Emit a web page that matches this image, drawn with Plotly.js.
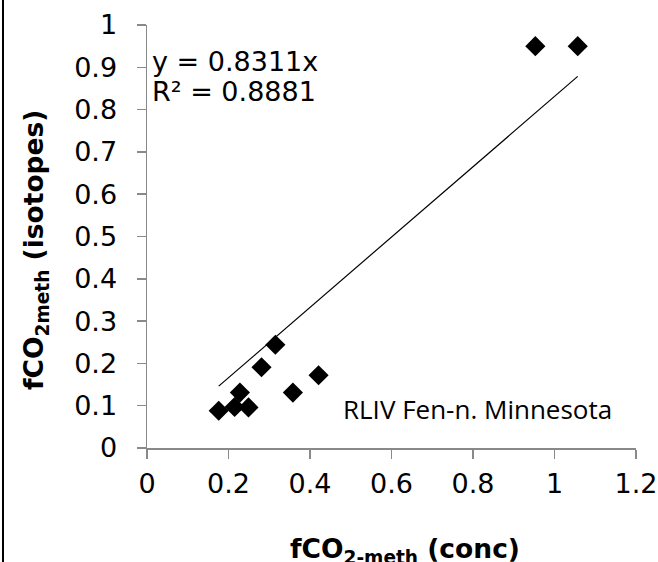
<!DOCTYPE html>
<html>
<head>
<meta charset="utf-8">
<script src="https://cdn.plot.ly/plotly-3.0.1.min.js"></script>
<style>
  html, body { margin: 0; padding: 0; background: #fff; }
  #chart { width: 658px; height: 562px; }
</style>
</head>
<body>
<div id="chart"></div>
<script>
// Data
const concValues = [0.176, 0.215, 0.228, 0.249, 0.281, 0.315, 0.358, 0.421, 0.953, 1.057];
const isotopeValues = [0.088, 0.097, 0.131, 0.096, 0.191, 0.244, 0.131, 0.172, 0.950, 0.950];
const trendSlope = 0.8311;
const rSquared = 0.8881;
const xTickValues = [0, 0.2, 0.4, 0.6, 0.8, 1, 1.2];
const yTickValues = [0, 0.1, 0.2, 0.3, 0.4, 0.5, 0.6, 0.7, 0.8, 0.9, 1];
const siteLabel = "RLIV Fen-n. Minnesota";

const xMin = Math.min(...concValues);
const xMax = Math.max(...concValues);
const trendX = [xMin, xMax];
const trendY = trendX.map(v => trendSlope * v);

const axisGray = '#898989';
const mainFamily = 'DejaVu Sans, Liberation Sans, Arial, sans-serif';
const tickFont = { family: mainFamily, size: 27, color: '#000' };

const M = { l: 147, r: 22, t: 25, b: 114 };
const PW = 658 - M.l - M.r, PH = 562 - M.t - M.b;
const px = x => (x - M.l) / PW;          // pixel -> paper x
const py = y => (562 - M.b - y) / PH;    // pixel -> paper y

const traces = [
  {
    x: trendX, y: trendY, type: 'scatter', mode: 'lines',
    line: { color: '#000', width: 1.2 }, hoverinfo: 'skip', showlegend: false
  },
  {
    x: concValues, y: isotopeValues, type: 'scatter', mode: 'markers',
    marker: { symbol: 'diamond', size: 15.5, color: '#000', line: { width: 0 } },
    showlegend: false
  }
];

const layout = {
  width: 658, height: 562,
  margin: M,
  paper_bgcolor: '#fff', plot_bgcolor: '#fff',
  showlegend: false,
  xaxis: {
    range: [0, 1.2], tickvals: xTickValues, ticktext: xTickValues.map(String),
    showgrid: false, zeroline: false, showline: true,
    linecolor: axisGray, linewidth: 1.5,
    ticks: 'outside', ticklen: 9, tickwidth: 1.5, tickcolor: axisGray,
    tickfont: tickFont, ticklabelstandoff: 2
  },
  yaxis: {
    range: [0, 1], tickvals: yTickValues, ticktext: yTickValues.map(String),
    showgrid: false, zeroline: false, showline: true,
    linecolor: axisGray, linewidth: 1.5,
    ticks: 'outside', ticklen: 9, tickwidth: 1.5, tickcolor: axisGray,
    tickfont: tickFont, ticklabelstandoff: 14
  },
  shapes: [
    { type: 'line', xref: 'paper', yref: 'paper', x0: px(3), x1: px(3), y0: -0.4, y1: 1.2,
      line: { color: '#000', width: 2 } }
  ],
  annotations: [
    { xref: 'x', yref: 'paper', x: 0.008, y: py(61.5), xanchor: 'left', yanchor: 'middle',
      text: 'y = ' + trendSlope + 'x', showarrow: false, font: tickFont },
    { xref: 'x', yref: 'paper', x: 0.008, y: py(91), xanchor: 'left', yanchor: 'middle',
      text: 'R² = ' + rSquared, showarrow: false, font: tickFont },
    { xref: 'x', yref: 'paper', x: 0.477, y: py(409), xanchor: 'left', yanchor: 'middle',
      text: siteLabel, showarrow: false,
      font: { family: 'Open Sans, Lato, sans-serif', size: 26, color: '#000' } },
    { xref: 'paper', yref: 'paper', x: px(404.5), y: py(550), xanchor: 'center', yanchor: 'middle',
      text: '<b>fCO<sub>2-meth</sub> (conc)</b>', showarrow: false,
      font: { family: mainFamily, size: 26.5, color: '#000' } },
    { xref: 'paper', yref: 'paper', x: px(35), y: py(250), xanchor: 'center', yanchor: 'middle',
      textangle: -90,
      text: '<b>fCO<sub>2meth</sub> (isotopes)</b>', showarrow: false,
      font: { family: mainFamily, size: 26.5, color: '#000' } }
  ]
};

Plotly.newPlot('chart', traces, layout, { displayModeBar: false, staticPlot: true });
</script>
</body>
</html>
